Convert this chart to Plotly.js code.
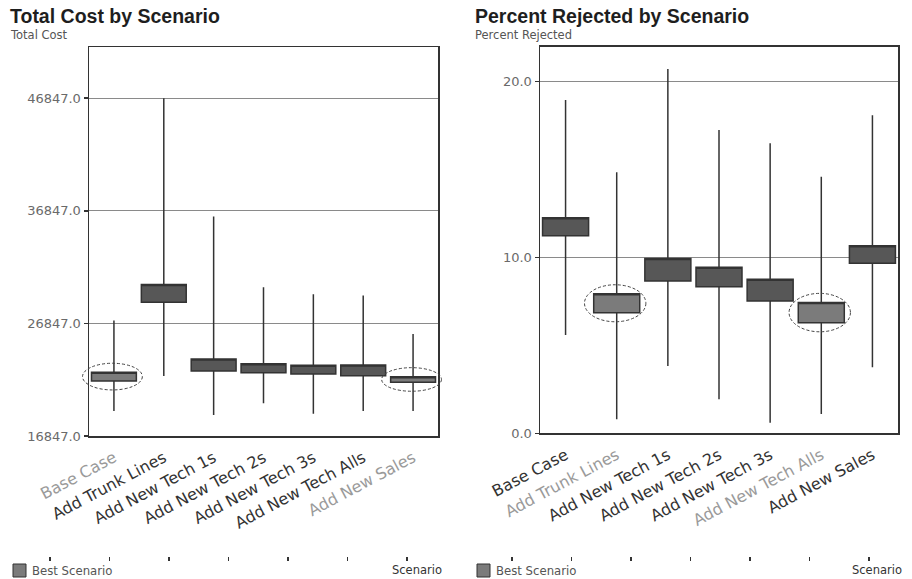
<!DOCTYPE html>
<html>
<head>
<meta charset="utf-8">
<script src="https://cdn.plot.ly/plotly-3.0.1.min.js"></script>
<style>html,body{margin:0;padding:0;background:#fff;}#chart{width:912px;height:579px;}</style>
</head>
<body>
<div id="chart"></div>
<script>
// ---------- data ----------
const scenarios = ['Base Case','Add Trunk Lines','Add New Tech 1s','Add New Tech 2s','Add New Tech 3s','Add New Tech Alls','Add New Sales'];

const costLow  = [19069, 22180, 18714, 19753, 18829, 19069, 19069];
const costQ1   = [21736, 28731, 22625, 22474, 22358, 22207, 21620];
const costQ3   = [22509, 30296, 23691, 23274, 23131, 23158, 22118];
const costHigh = [27096, 46847, 36340, 30062, 29443, 29318, 25914];
const costBest = [true, false, false, false, false, false, true];

const rejLow  = [5.59, 0.80, 3.82, 1.93, 0.60, 1.10, 3.75];
const rejQ1   = [11.23, 6.85, 8.65, 8.33, 7.52, 6.28, 9.66];
const rejQ3   = [12.25, 7.93, 9.94, 9.43, 8.75, 7.44, 10.66];
const rejHigh = [18.94, 14.83, 20.70, 17.23, 16.48, 14.58, 18.07];
const rejBest = [false, true, false, false, false, true, false];

const costTicks = [16847, 26847, 36847, 46847];
const rejTicks  = [0, 10, 20];
const decoTicks = [0, 1, 2, 3, 4, 5, 6];

// ---------- styling ----------
const W = 912, H = 579;
const darkFill = '#575757', bestFill = '#7b7b7b', edge = '#333333';
const labelDark = '#333333', labelGray = '#9a9a9a';
const FONT = 'DejaVu Sans, Arial, sans-serif';

const L = {xd: [89/W, 438/W], yd: [1-436/H, 1-47/H], yr: [16847, 51394]};
const R = {xd: [540/W, 898/W], yd: [1-433.3/H, 1-46.7/H], yr: [0, 21.97]};

function boxTraces(low, q1, q3, high, best, xa, ya) {
  const out = [];
  [false, true].forEach(flag => {
    const idx = scenarios.map((_, i) => i).filter(i => best[i] === flag);
    out.push({
      type: 'box', xaxis: xa, yaxis: ya,
      x: idx.map(i => scenarios[i]),
      lowerfence: idx.map(i => low[i]),
      q1: idx.map(i => q1[i]),
      median: idx.map(i => q3[i]),
      q3: idx.map(i => q3[i]),
      upperfence: idx.map(i => high[i]),
      width: 0.9, whiskerwidth: 0,
      fillcolor: flag ? bestFill : darkFill,
      line: {color: edge, width: 1.5},
      boxpoints: false, showlegend: false, hoverinfo: 'skip'
    });
  });
  return out;
}

function tickText(best) {
  return scenarios.map((s, i) => '<span style="color:' + (best[i] ? labelGray : labelDark) + '">' + s + '</span>');
}

function ellipses(q1, q3, best, G) {
  const shapes = [];
  const catW = (G.xd[1] - G.xd[0]) / scenarios.length;
  const yp = v => G.yd[0] + (v - G.yr[0]) / (G.yr[1] - G.yr[0]) * (G.yd[1] - G.yd[0]);
  const padY = 9 / H;
  best.forEach((b, i) => {
    if (!b) return;
    const cx = G.xd[0] + (i + 0.47) * catW;
    const hw = catW * 0.6;
    shapes.push({
      type: 'circle', xref: 'paper', yref: 'paper',
      x0: cx - hw, x1: cx + hw,
      y0: yp(q1[i]) - padY, y1: yp(q3[i]) + padY,
      line: {color: '#444', width: 1, dash: '3px,2px'}, layer: 'above'
    });
  });
  return shapes;
}

const data = [
  ...boxTraces(costLow, costQ1, costQ3, costHigh, costBest, 'x', 'y'),
  ...boxTraces(rejLow, rejQ1, rejQ3, rejHigh, rejBest, 'x2', 'y2'),
  {type: 'scatter', mode: 'none', x: [], y: [], xaxis: 'x3', yaxis: 'y3', showlegend: false, hoverinfo: 'skip'},
  {type: 'scatter', mode: 'none', x: [], y: [], xaxis: 'x4', yaxis: 'y4', showlegend: false, hoverinfo: 'skip'}
];

function xAxis(G, best, anchor) {
  return {
    domain: G.xd, anchor: anchor, type: 'category',
    categoryorder: 'array', categoryarray: scenarios,
    range: [-0.5, scenarios.length - 0.5],
    tickmode: 'array', tickvals: scenarios, ticktext: tickText(best),
    tickangle: -28, ticks: '', ticklabelstandoff: 5,
    tickfont: {family: FONT, size: 16, color: labelDark},
    showline: true, mirror: true, linecolor: edge, linewidth: 1.5,
    showgrid: false, zeroline: false, fixedrange: true
  };
}
function yAxis(G, ticks, anchor) {
  return {
    domain: G.yd, anchor: anchor, range: G.yr,
    tickmode: 'array', tickvals: ticks, tickformat: '.1f',
    ticks: 'outside', ticklen: 4, tickcolor: edge, tickwidth: 1.5,
    tickfont: {family: FONT, size: 13, color: '#6a6a6a'},
    showline: true, mirror: true, linecolor: edge, linewidth: 1.5,
    showgrid: true, gridcolor: '#8a8a8a', gridwidth: 1,
    zeroline: false, fixedrange: true
  };
}
function decoAxis(d0, d1, anchor) {
  return {
    domain: [d0, d1], anchor: anchor, range: [-0.5, 6.5],
    tickmode: 'array', tickvals: decoTicks, showticklabels: false,
    ticks: 'outside', ticklen: 4, tickcolor: edge, tickwidth: 1.5,
    showline: false, showgrid: false, zeroline: false, fixedrange: true
  };
}
function decoY(anchor) {
  return {domain: [1-556/H, 1-550/H], anchor: anchor, range: [0, 1], showticklabels: false,
    ticks: '', showline: false, showgrid: false, zeroline: false, fixedrange: true};
}

const annotations = [];
const shapes = [
  ...ellipses(costQ1, costQ3, costBest, L),
  ...ellipses(rejQ1, rejQ3, rejBest, R)
];
function header(x, title, sub) {
  annotations.push({xref: 'paper', yref: 'paper', x: x/W, y: 1-4/H, xanchor: 'left', yanchor: 'top',
    text: '<b>' + title + '</b>', showarrow: false, borderpad: 0,
    font: {family: 'Liberation Sans, Arial, sans-serif', size: 19.5, color: '#1e1e1e'}});
  annotations.push({xref: 'paper', yref: 'paper', x: x/W, y: 1-27/H, xanchor: 'left', yanchor: 'top',
    text: sub, showarrow: false, borderpad: 0, font: {family: FONT, size: 11.5, color: '#555'}});
}
header(9, 'Total Cost by Scenario', 'Total Cost');
header(474, 'Percent Rejected by Scenario', 'Percent Rejected');

function footer(sqX, scenRight) {
  shapes.push({type: 'rect', xref: 'paper', yref: 'paper', x0: sqX/W, x1: (sqX+13)/W, y0: 1-577/H, y1: 1-564/H,
    fillcolor: bestFill, line: {color: edge, width: 1}});
  annotations.push({xref: 'paper', yref: 'paper', x: (sqX+17)/W, y: 1-571/H, xanchor: 'left', yanchor: 'middle',
    text: 'Best Scenario', showarrow: false, font: {family: FONT, size: 11.7, color: '#555'}});
  annotations.push({xref: 'paper', yref: 'paper', x: scenRight/W, y: 1-570/H, xanchor: 'right', yanchor: 'middle',
    text: 'Scenario', showarrow: false, font: {family: FONT, size: 11.5, color: '#333'}});
}
footer(13, 444);
footer(477, 904);

const layout = {
  width: W, height: H, margin: {l: 0, r: 0, t: 0, b: 0},
  paper_bgcolor: '#fff', plot_bgcolor: 'rgba(0,0,0,0)',
  showlegend: false, boxmode: 'overlay', boxgap: 0, boxgroupgap: 0,
  xaxis: xAxis(L, costBest, 'y'),
  yaxis: yAxis(L, costTicks, 'x'),
  xaxis2: xAxis(R, rejBest, 'y2'),
  yaxis2: yAxis(R, rejTicks, 'x2'),
  xaxis3: decoAxis(20.25/W, 436.75/W, 'y3'),
  yaxis3: decoY('x3'),
  xaxis4: decoAxis(482.3/W, 899/W, 'y4'),
  yaxis4: decoY('x4'),
  annotations: annotations, shapes: shapes
};

Plotly.newPlot('chart', data, layout, {staticPlot: true, displayModeBar: false});
</script>
</body>
</html>
